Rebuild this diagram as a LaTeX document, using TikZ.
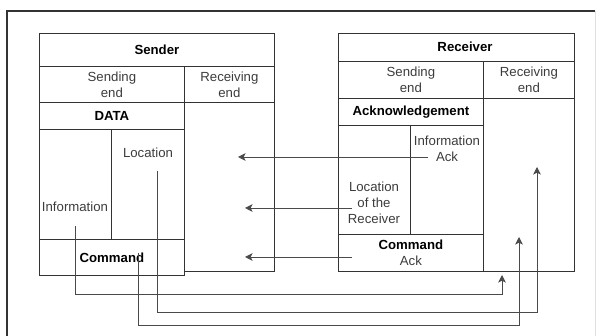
\documentclass[tikz,border=0pt]{standalone}
\usepackage{fontspec}
\setmainfont{Liberation Sans}
\usepackage{xcolor}
\usetikzlibrary{arrows.meta, positioning}
\definecolor{linegray}{HTML}{333333}
\definecolor{arrowgray}{HTML}{4A4A4A}
\definecolor{textgray}{HTML}{3C3C3C}

\begin{document}
\begin{tikzpicture}[
    x=1pt, y=-1pt,
    font=\fontsize{13.2}{16}\selectfont,
    cell/.style={draw=linegray, line width=0.8pt, anchor=north west, inner sep=0pt, align=center, text=textgray},
    lbl/.style={align=center, inner sep=0pt, text=textgray},
    hd/.style={font=\fontsize{13.2}{16}\selectfont\bfseries, text=black},
    arr/.style={-{Stealth[length=7.5pt, width=7.5pt, inset=1.8pt]}, draw=arrowgray, line width=0.9pt}
  ]
    \useasboundingbox (0,0) rectangle (598,336);
    % outer frame
    \draw[line width=1.6pt, black!80] (7,336) -- (7,11) -- (595,11);
    \draw[black!12] (595,11) -- (595,336);

    % sender
    \node[cell, hd, minimum width=235pt, minimum height=33pt] (sTitle) at (39,33) {Sender};
    \node[cell, minimum width=145pt, minimum height=36pt] (sSend) at (39,66) {Sending\\end};
    \node[cell, minimum width=90pt, minimum height=36pt] (sRecv) at (184,66) {Receiving\\end};
    \node[cell, hd, minimum width=145pt, minimum height=27pt] (sData) at (39,102) {DATA};
    \node[cell, minimum width=72pt, minimum height=110pt] (sInfoCell) at (39,129) {};
    \node[cell, minimum width=73pt, minimum height=110pt] (sLocCell) at (111,129) {};
    \node[cell, hd, minimum width=145pt, minimum height=36pt] (sCmd) at (39,239) {Command};
    \node[cell, minimum width=90pt, minimum height=169pt] (sRecvCol) at (184,102) {};
    \node[lbl] (sInfo) at (75,207) {Information};
    \node[lbl] (sLoc) at (148,153) {Location};

    % receiver
    \node[cell, minimum width=236pt, minimum height=28pt] (rTitle) at (338,33) {};
    \node[lbl, hd] (rName) at (465,47) {Receiver};
    \node[cell, minimum width=145pt, minimum height=37pt] (rSend) at (338,61) {Sending\\end};
    \node[cell, minimum width=91pt, minimum height=37pt] (rRecv) at (483,61) {Receiving\\end};
    \node[cell, hd, minimum width=145pt, minimum height=27pt] (rAck) at (338,98) {Acknowledgement};
    \node[cell, minimum width=72pt, minimum height=109pt] (rLocCell) at (338,125) {};
    \node[cell, minimum width=73pt, minimum height=109pt] (rInfoCell) at (410,125) {};
    \node[cell, minimum width=145pt, minimum height=37pt] (rCmd) at (338,234) {\textbf{\color{black}Command}\\Ack};
    \node[cell, minimum width=91pt, minimum height=173pt] (rRecvCol) at (483,98) {};
    \node[lbl] (rInfoAck) at (447,149) {Information\\Ack};
    \node[lbl] (rLoc) at (374,203) {Location\\of the\\Receiver};

    % end points
    \coordinate (ackTail) at (428,157);
    \coordinate (ackTip) at (238,157);
    \coordinate (locTail) at (352,208);
    \coordinate (locTip) at (245,208);
    \coordinate (cmdTail) at (352,257);
    \coordinate (cmdTip) at (245,257);
    \coordinate (infoStart) at (75,226);
    \coordinate (infoEnd) at (502,275);
    \coordinate (locStart) at (157,171);
    \coordinate (locEnd) at (537,167);
    \coordinate (cmdStart) at (138,253);
    \coordinate (cmdEnd) at (519,237);

    % receiver -> sender
    \draw[arr] (ackTail) -- (ackTip);
    \draw[arr] (locTail) -- (locTip);
    \draw[arr] (cmdTail) -- (cmdTip);

    % sender -> receiver
    \draw[arr] (infoStart) -- ++(0,68) -| (infoEnd);
    \draw[arr] (locStart) -- ++(0,141) -| (locEnd);
    \draw[arr] (cmdStart) -- ++(0,72) -| (cmdEnd);
  \end{tikzpicture}
\end{document}
